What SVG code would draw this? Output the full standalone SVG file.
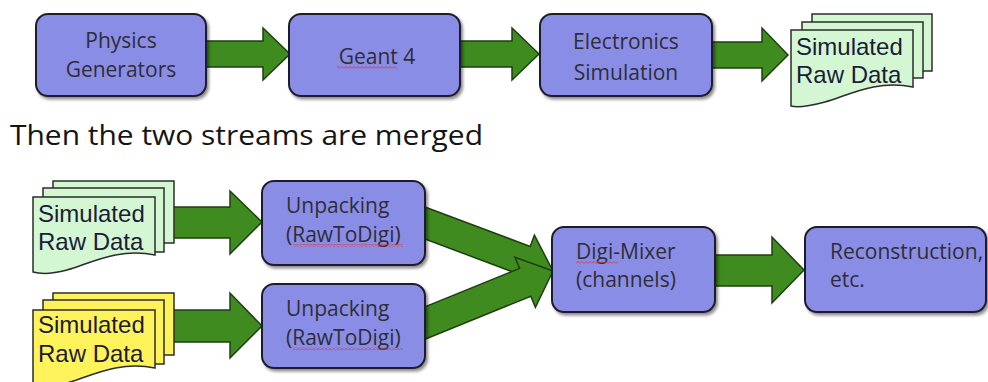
<svg xmlns="http://www.w3.org/2000/svg" width="988" height="382" viewBox="0 0 988 382">
<defs>
<filter id="sh" x="-10%" y="-10%" width="125%" height="130%">
<feDropShadow dx="2" dy="2.5" stdDeviation="1.8" flood-color="#000" flood-opacity="0.45"/>
</filter>
<pattern id="sq" width="4" height="3" patternUnits="userSpaceOnUse">
<path d="M0,2.5 L2,0.5 L4,2.5" fill="none" stroke="#d83a3a" stroke-width="0.9"/>
</pattern>
<style>
.box{fill:#8a8de6;stroke:#1e1e2a;stroke-width:2;filter:url(#sh)}
.arr{fill:#3f8b1f;stroke:#1f3f12;stroke-width:1.5;stroke-linejoin:miter}
.bt{font-family:"Open Sans","Liberation Sans",sans-serif;font-size:21px;fill:#2e2e36}
.btc{text-anchor:middle}
.doc{stroke:#2c2c2c;stroke-width:1.5}
.g{fill:#d3f6d3}
.y{fill:#fff35c}
.dt{font-family:"Liberation Sans",Arial,sans-serif;font-size:24px;fill:#1c1c38}
.title{font-family:"Open Sans","Liberation Sans",sans-serif;font-size:28px;fill:#141414}
</style>
</defs>
<rect width="988" height="382" fill="#ffffff"/>

<g id="connectors">
<polygon class="arr" points="200,41 263,41 263,28 290,54 263,80 263,67 200,67"/>
<polygon class="arr" points="455,41 512,41 512,28 539,54 512,80 512,67 455,67"/>
<polygon class="arr" points="707,42 762,42 762,28 788,55 762,81 762,68 707,68"/>
<polygon class="arr" points="170,207 230,207 230,191 262,222 230,254 230,238 170,238"/>
<polygon class="arr" points="170,310 230,310 230,293 262,326 230,358 230,342 170,342"/>
<polygon class="arr" points="411.6,202 530.2,246.5 534.4,235.2 553,271 515.4,285.8 519.6,274.5 401,230"/>
<polygon class="arr" points="400.9,316.6 519.6,268.4 515,257.3 553,271 535.4,307.3 530.8,296.2 412.1,344.4"/>
<polygon class="arr" points="710,255 772,255 772,237 804,270 772,303 772,286 710,286"/>
</g>

<g id="physics-generators">
<rect class="box" x="36" y="14" width="170" height="82" rx="12"/>
<text class="bt btc" x="121" y="48">Physics</text>
<text class="bt btc" x="121" y="77">Generators</text>
</g>

<g id="geant4">
<rect class="box" x="289" y="14" width="171" height="82" rx="12"/>
<text class="bt btc" x="377" y="64">Geant 4</text>
<rect x="337" y="66" width="60" height="3" fill="url(#sq)"/>
</g>

<g id="electronics-simulation">
<rect class="box" x="540" y="14" width="172" height="82" rx="12"/>
<text class="bt btc" x="626" y="49">Electronics</text>
<text class="bt btc" x="626" y="80">Simulation</text>
</g>

<g id="simulated-raw-data-top">
<rect class="doc g" x="812" y="14" width="120" height="57"/>
<rect class="doc g" x="802" y="22" width="121" height="56"/>
<path class="doc g" d="M791,30 H913 V87 C875,79 845,97 825,102 C810,106 798,108 791,106 Z"/>
<text class="dt" x="796" y="55">Simulated</text>
<text class="dt" x="796" y="83">Raw Data</text>
</g>

<text class="title" x="10" y="145" textLength="473" lengthAdjust="spacingAndGlyphs">Then the two streams are merged</text>

<g id="simulated-raw-data-green">
<rect class="doc g" x="53" y="181" width="121" height="62"/>
<rect class="doc g" x="43" y="188" width="121" height="64"/>
<path class="doc g" d="M33,197 H155 V255 C117,247 87,265 67,270 C52,274 40,274 33,272 Z"/>
<text class="dt" x="38" y="222">Simulated</text>
<text class="dt" x="38" y="250">Raw Data</text>
</g>

<g id="simulated-raw-data-yellow">
<rect class="doc y" x="53" y="293" width="121" height="62"/>
<rect class="doc y" x="43" y="300" width="121" height="64"/>
<path class="doc y" d="M33,310 H155 V368 C117,360 87,378 67,383 C52,387 40,387 33,385 Z"/>
<text class="dt" x="38" y="333">Simulated</text>
<text class="dt" x="38" y="362">Raw Data</text>
</g>

<g id="unpacking-1">
<rect class="box" x="262" y="181" width="163" height="84" rx="12"/>
<text class="bt" x="286" y="213">Unpacking</text>
<text class="bt" x="286" y="242">(RawToDigi)</text>
<rect x="293" y="244" width="110" height="3" fill="url(#sq)"/>
</g>

<g id="unpacking-2">
<rect class="box" x="262" y="284" width="163" height="84" rx="12"/>
<text class="bt" x="286" y="316">Unpacking</text>
<text class="bt" x="286" y="345">(RawToDigi)</text>
<rect x="293" y="347" width="110" height="3" fill="url(#sq)"/>
</g>

<g id="digi-mixer">
<rect class="box" x="552" y="227" width="163" height="85" rx="12"/>
<text class="bt" x="576" y="259">Digi-Mixer</text>
<rect x="576" y="261" width="42" height="3" fill="url(#sq)"/>
<text class="bt" x="576" y="287">(channels)</text>
</g>

<g id="reconstruction">
<rect class="box" x="805" y="227" width="181" height="85" rx="12"/>
<text class="bt" x="830" y="259">Reconstruction,</text>
<text class="bt" x="830" y="287">etc.</text>
</g>
</svg>
